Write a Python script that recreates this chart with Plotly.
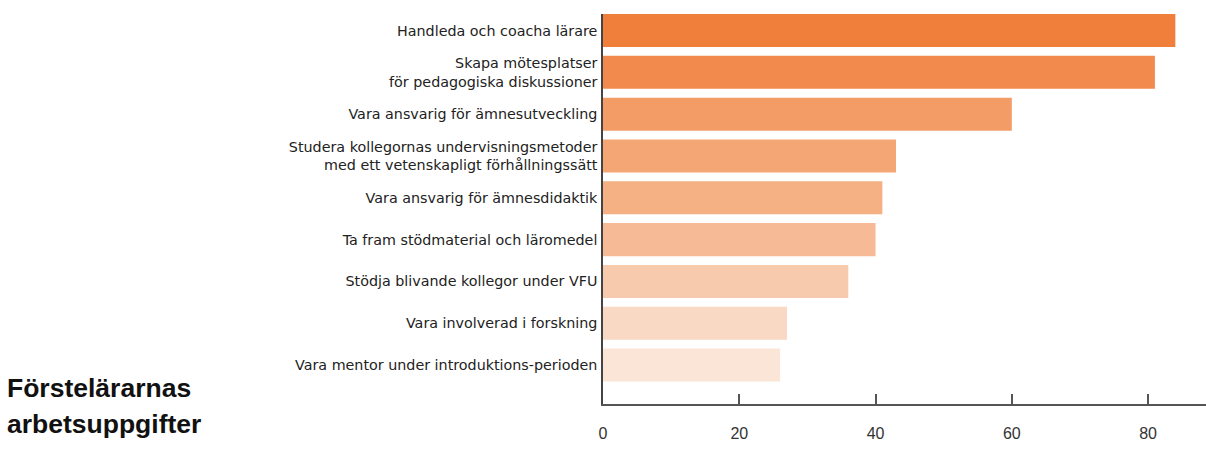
import plotly.graph_objects as go

categories = [
    "Handleda och coacha lärare",
    "Skapa mötesplatser<br>för pedagogiska diskussioner",
    "Vara ansvarig för ämnesutveckling",
    "Studera kollegornas undervisningsmetoder<br>med ett vetenskapligt förhållningssätt",
    "Vara ansvarig för ämnesdidaktik",
    "Ta fram stödmaterial och läromedel",
    "Stödja blivande kollegor under VFU",
    "Vara involverad i forskning",
    "Vara mentor under introduktions-perioden",
]
values = [84, 81, 60, 43, 41, 40, 36, 27, 26]
colors = ["#F07F3C", "#F28A4D", "#F39C65", "#F4A674", "#F5B084",
          "#F6BA96", "#F8CAAD", "#F9D8C4", "#FBE5D7"]
tick_vals = [0, 20, 40, 60, 80]
title_lines = ["Förstelärarnas", "arbetsuppgifter"]

fig = go.Figure(go.Bar(
    x=values, y=categories, orientation="h",
    marker=dict(color=colors, line=dict(width=0)),
    width=0.79,
))

PLOT_TOP, PLOT_BOTTOM, PLOT_LEFT = 14, 404, 603

fig.update_layout(
    width=1206, height=457,
    margin=dict(l=PLOT_LEFT, r=0, t=PLOT_TOP, b=457 - PLOT_BOTTOM),
    paper_bgcolor="white", plot_bgcolor="white",
    showlegend=False,
    font=dict(family="DejaVu Sans, sans-serif", size=14.3, color="#222222"),
    xaxis=dict(
        range=[0, 88.5], tickvals=tick_vals, showgrid=False, zeroline=False,
        showline=True, linecolor="#555555", linewidth=1.5,
        ticks="inside", ticklen=10, tickcolor="#555555", tickwidth=1.5,
        ticklabelstandoff=14,
        tickfont=dict(family="Liberation Sans, Arial, sans-serif", size=16, color="#333333"),
    ),
    yaxis=dict(
        type="category", categoryorder="array", categoryarray=categories,
        range=[8.93, -0.395], showgrid=False, zeroline=False,
        showline=True, linecolor="#444444", linewidth=1.5,
        ticks="", ticklabelstandoff=1,
        tickfont=dict(family="DejaVu Sans, sans-serif", size=14.3, color="#222222"),
    ),
)

plot_h = PLOT_BOTTOM - PLOT_TOP
for i, line in enumerate(title_lines):
    fig.add_annotation(
        text="<b>" + line + "</b>", xref="paper", yref="paper",
        x=-PLOT_LEFT / (1206 - PLOT_LEFT), xanchor="left", xshift=5,
        y=(PLOT_BOTTOM - 388 - 36 * i) / plot_h, yanchor="middle",
        showarrow=False,
        font=dict(family="Liberation Sans, Arial, sans-serif", size=26.5, color="#111111"),
    )

fig.write_html("out.html", config={"displayModeBar": False},
               post_script="document.body.style.margin='0';")
